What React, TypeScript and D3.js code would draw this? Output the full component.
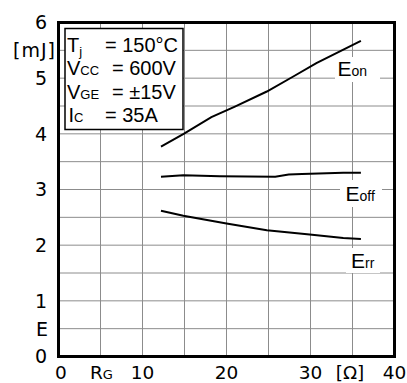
import React from 'react';
import * as d3 from 'd3';

// Switching energy vs gate resistance
const rgEon = [12.2, 14.9, 18.2, 21.0, 24.8, 27.95, 30.7, 36.0];
const eonValues = [3.77, 4.0, 4.3, 4.49, 4.76, 5.03, 5.27, 5.67];

const rgEoff = [12.2, 14.86, 19.2, 25.8, 27.4, 29.0, 33.9, 36.0];
const eoffValues = [3.23, 3.255, 3.24, 3.23, 3.27, 3.28, 3.3, 3.3];

const rgErr = [12.2, 14.86, 20.0, 24.8, 29.9, 33.9, 36.0];
const errValues = [2.62, 2.53, 2.39, 2.27, 2.19, 2.13, 2.11];

const xTicks = [0, 10, 20, 30, 40];
const yTicks = [0, 1, 2, 3, 4, 5, 6];

const legendRows = [
  { main: 'T', sub: 'j', subDy: 4, eqX: 105, value: '= 150°C' },
  { main: 'V', sub: 'CC', subDy: 0, eqX: 112, value: '= 600V' },
  { main: 'V', sub: 'GE', subDy: 0, eqX: 112, value: '= ±15V' },
  { main: 'I', sub: 'C', subDy: 0, eqX: 105, value: '= 35A' },
];

const W = 407;
const H = 383;
const plot = { left: 58.5, right: 394.5, top: 22.5, bottom: 356.5 };

const axisFont = '"DejaVu Sans", Verdana, sans-serif';
const labelFont = '"Liberation Sans", Arial, sans-serif';

const App: React.FC = () => {
  const x = d3.scaleLinear().domain([0, 40]).range([plot.left, plot.right]);
  const y = d3.scaleLinear().domain([0, 6]).range([plot.bottom, plot.top]);

  const line = d3.line<[number, number]>()
    .x(d => x(d[0]))
    .y(d => y(d[1]));

  const series = [
    d3.zip(rgEon, eonValues) as [number, number][],
    d3.zip(rgEoff, eoffValues) as [number, number][],
    d3.zip(rgErr, errValues) as [number, number][],
  ];

  const xGrid = d3.range(5, 40, 5);
  const yGrid = d3.range(0.5, 6, 0.5);

  // curve labels, with a white patch behind each one
  const curveLabels = [
    { sub: 'on', x: 337.5, y: 76, box: [335, 57, 45, 25] },
    { sub: 'off', x: 345.5, y: 200.5, box: [340, 180, 42, 27] },
    { sub: 'rr', x: 351, y: 268, box: [346, 248, 34, 25] },
  ];

  return (
    <svg
      width={W}
      height={H}
      style={{ position: 'absolute', left: 0, top: 0, background: '#fff' }}
    >
      {/* grid */}
      <g stroke="#8c8c8c" strokeWidth={1}>
        {xGrid.map(v => (
          <line key={'gx' + v} x1={x(v)} x2={x(v)} y1={plot.top} y2={plot.bottom} />
        ))}
        {yGrid.map(v => (
          <line key={'gy' + v} x1={plot.left} x2={plot.right} y1={y(v)} y2={y(v)} />
        ))}
      </g>

      {/* white patches under curve labels */}
      {curveLabels.map(l => (
        <rect key={'bg' + l.sub} x={l.box[0]} y={l.box[1]} width={l.box[2]} height={l.box[3]} fill="#fff" />
      ))}

      {/* curves */}
      {series.map((s, i) => (
        <path key={i} d={line(s) || ''} fill="none" stroke="#000" strokeWidth={2} />
      ))}

      {curveLabels.map(l => (
        <text key={'lb' + l.sub} x={l.x} y={l.y} fontFamily={labelFont} fontSize={21} fill="#000">
          E<tspan fontSize={14}>{l.sub}</tspan>
        </text>
      ))}

      {/* frame */}
      <rect
        x={plot.left}
        y={plot.top}
        width={plot.right - plot.left}
        height={plot.bottom - plot.top}
        fill="none"
        stroke="#000"
        strokeWidth={3}
      />

      {/* legend box */}
      <rect x={65} y={28.5} width={118} height={101} fill="#fff" stroke="#000" strokeWidth={1.5} />
      {legendRows.map((r, i) => {
        const base = 51.5 + i * 23.6;
        return (
          <g key={'lg' + i} fontFamily={labelFont} fill="#000">
            <text x={r.main === 'I' ? 68.5 : 67} y={base} fontSize={20}>
              {r.main}
              <tspan fontSize={13} dy={r.subDy}>{r.sub}</tspan>
            </text>
            <text x={r.eqX} y={base} fontSize={20}>{r.value}</text>
          </g>
        );
      })}

      {/* y axis labels */}
      <g fontFamily={axisFont} fontSize={19} fill="#000" textAnchor="end">
        {yTicks.map(v => (
          <text key={'yt' + v} x={47} y={y(v)} dy="0.36em">{v}</text>
        ))}
        <text x={48} y={y(0.5)} dy="0.36em">E</text>
        <text x={56} y={y(5.5)} dy="0.36em" letterSpacing={1}>[mJ]</text>
      </g>

      {/* x axis labels */}
      <g fontFamily={axisFont} fontSize={18.5} fill="#000" textAnchor="middle">
        {xTicks.map(v => (
          <text key={'xt' + v} x={x(v) + (v === 0 ? 2.5 : 0)} y={379}>{v}</text>
        ))}
        <text x={90} y={379} textAnchor="start">
          R<tspan fontSize={13}>G</tspan>
        </text>
        <text x={350} y={379}>[Ω]</text>
      </g>
    </svg>
  );
};

export default App;
